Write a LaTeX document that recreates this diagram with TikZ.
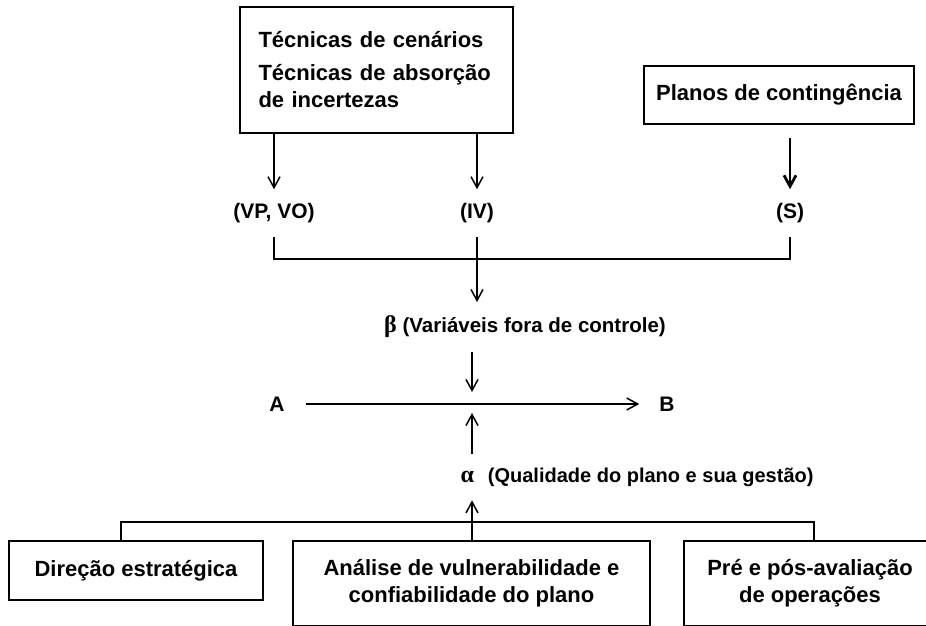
\documentclass[tikz,border=0pt]{standalone}
\usepackage{fontspec}
\setmainfont{Liberation Sans}
\newfontfamily\greek{Liberation Serif}
\usetikzlibrary{arrows.meta}

\begin{document}
\begin{tikzpicture}[x=1pt,y=-1pt,font=\bfseries\fontsize{21}{27}\selectfont,
    every node/.style={inner sep=0pt},
    box/.style={draw,line width=1.9pt,font=\bfseries\fontsize{22}{27}\selectfont},
    lab/.style={outer ysep=14pt},
    link/.style={line width=1.5pt},
    arr/.style={link,-{Straight Barb[length=11pt,width=12pt]}}]
  \useasboundingbox (0,0) rectangle (926,626);
  \clip (0,0) rectangle (926,626);

  \node[box,minimum width=273pt,minimum height=126pt,text width=236pt,align=left] (tec) at (376.5,70)
    {Técnicas de cenários\\[6pt]Técnicas de absorção\\de incertezas};
  \node[box,minimum width=270pt,minimum height=58pt] (plan) at (779,95) {Planos de contingência};

  \node[lab] (vpvo) at (274,213) {(VP, VO)};
  \node[lab] (iv) at (477,213) {(IV)};
  \node[lab] (s) at (790,213) {(S)};
  \node[lab,font=\bfseries\fontsize{20.5}{25}\selectfont] (beta) at (525,327)
    {{\greek\fontsize{24}{25}\selectfont β} (Variáveis fora de controle)};
  \node (A) at (277,404) {A};
  \node (B) at (667,404) {B};
  \coordinate (mid) at (472,404);
  \node[lab,font=\bfseries\fontsize{20}{25}\selectfont] (alpha) at (637,477)
    {{\greek\fontsize{24}{25}\selectfont α}\hspace{0.7em}(Qualidade do plano e sua gestão)};

  \node[box,minimum width=254pt,minimum height=59pt] (dir) at (136,570.5) {Direção estratégica};
  \node[box,minimum width=357pt,minimum height=85pt,align=center] (anal) at (471.5,583.5)
    {Análise de vulnerabilidade e\\confiabilidade do plano};
  \node[box,minimum width=252pt,minimum height=85pt,align=center] (pre) at (810,583.5)
    {Pré e pós-avaliação\\de operações};

  \coordinate (tb) at (0,259);
  \coordinate (bl) at (121,522);
  \coordinate (br) at (814,522);

  \draw[arr] (tec.south -| vpvo) -- (vpvo);
  \draw[arr] (tec.south -| iv) -- (iv);
  \draw[arr,line width=2.8pt,shorten <=13pt] (plan.south -| s) -- (s);
  \draw[link] (vpvo) -- (vpvo |- tb) -- (s |- tb) -- (s);
  \draw[arr] (iv) -- (beta.north -| iv);
  \draw[arr,shorten >=12pt] (beta.south -| mid) -- (mid);
  \draw[arr,shorten <=21pt,shorten >=20pt] (A) -- (B);
  \draw[arr,shorten >=9pt] (alpha.north -| mid) -- (mid);
  \draw[link] (dir.north -| bl) -- (bl) -- (br) -- (pre.north -| br);
  \draw[arr] (anal.north -| mid) -- (alpha.south -| mid);
\end{tikzpicture}
\end{document}
